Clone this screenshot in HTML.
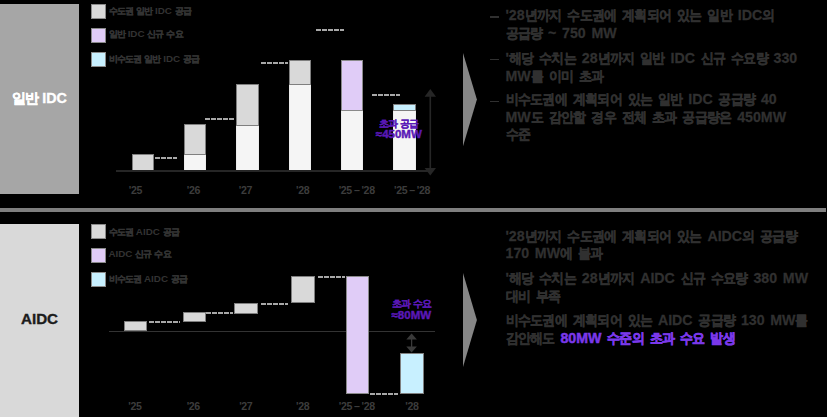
<!DOCTYPE html>
<html lang="ko">
<head>
<meta charset="utf-8">
<title>IDC / AIDC</title>
<style>
html,body{margin:0;padding:0;background:#000;}
body{width:827px;height:417px;position:relative;overflow:hidden;font-family:"Liberation Sans",sans-serif;color:#303030;}
.abs{position:absolute;}
.panel{position:absolute;left:0;width:79px;display:flex;align-items:center;justify-content:center;font-weight:700;font-size:14.3px;white-space:nowrap;-webkit-text-stroke:0.35px currentColor;}
.panel .k{font-size:13.6px;letter-spacing:-1.0px;-webkit-text-stroke:0.45px currentColor;}
.lg{position:absolute;left:91px;width:15px;height:15px;box-sizing:border-box;border:1px solid #8a8a8a;}
.lt{position:absolute;left:108.5px;font-size:9.8px;line-height:12px;white-space:nowrap;color:#333;font-weight:700;word-spacing:0px;}
.lt .k{font-size:9.4px;letter-spacing:-0.8px;-webkit-text-stroke:0.25px currentColor;}
.bar{position:absolute;box-sizing:border-box;}
.g{background:#d9d9d9;border:1px solid #7f7f7f;}
.w{background:#f5f5f5;border:1px solid #ebebeb;}
.p{background:#e0ccf7;border:1px solid #8a8a8a;}
.b{background:#c8f0ff;border:1px solid #7f7f7f;}
.dot{position:absolute;height:2px;background:repeating-linear-gradient(90deg,#a8a8a8 0,#a8a8a8 4.8px,transparent 4.8px,transparent 6px);}
.xl{position:absolute;font-size:10.6px;line-height:12px;color:#3c3c3c;white-space:nowrap;transform:translateX(-50%);font-weight:700;letter-spacing:-0.35px;word-spacing:-0.6px;}
.note{position:absolute;font-size:11.5px;line-height:11.5px;font-weight:700;color:#5a18b6;-webkit-text-stroke:0.45px #5a18b6;text-align:center;white-space:nowrap;transform:translateX(-50%);}
.note .k{font-size:9.6px;letter-spacing:-1.0px;-webkit-text-stroke:0.25px currentColor;}
.tx{position:absolute;left:505.5px;font-size:14.2px;line-height:17.5px;font-weight:700;color:#303030;white-space:nowrap;word-spacing:1.75px;-webkit-text-stroke:0.25px currentColor;}
.tx .k{font-size:13.0px;letter-spacing:-0.7px;-webkit-text-stroke:0.35px currentColor;}
.dash{position:absolute;left:490px;width:9px;height:1.6px;background:#303030;}
.pur{color:#7a38ea;-webkit-text-stroke:0.5px #7a38ea;}
.pur .k{-webkit-text-stroke:0.6px #7a38ea;}
.ln{display:block;height:17.5px;transform:scaleY(1.08);transform-origin:50% 70%;}
</style>
</head>
<body>

<!-- left panels -->
<div class="panel" style="top:4px;height:189.5px;background:#a6a6a6;color:#fff;"><span><span class="k">일반</span> IDC</span></div>
<div class="panel" style="top:224px;height:193px;background:#d9d9d9;color:#1c1c1c;font-size:15.2px;-webkit-text-stroke:0.35px #1c1c1c;padding-bottom:3.5px;box-sizing:border-box;">AIDC</div>

<!-- divider -->
<div class="abs" style="left:0;top:208px;width:826px;height:4px;background:#7f7f7f;"></div>

<!-- top legend -->
<div class="lg" style="top:4px;background:#d9d9d9;"></div>
<div class="lg" style="top:28px;background:#e0ccf7;"></div>
<div class="lg" style="top:52px;background:#c8f0ff;"></div>
<div class="lt" style="top:4.8px;"><span class="k">수도권</span> <span class="k">일반</span> IDC <span class="k">공급</span></div>
<div class="lt" style="top:28px;"><span class="k">일반</span> IDC <span class="k">신규</span> <span class="k">수요</span></div>
<div class="lt" style="top:52.5px;"><span class="k">비수도권</span> <span class="k">일반</span> IDC <span class="k">공급</span></div>

<!-- top chart -->
<div class="bar g" style="left:132px;top:154px;width:22px;height:17px;"></div>
<div class="dot" style="left:155px;top:157px;width:22px;"></div>
<div class="bar w" style="left:184px;top:154px;width:22px;height:17px;"></div>
<div class="bar g" style="left:184px;top:124px;width:22px;height:31px;"></div>
<div class="dot" style="left:205px;top:118px;width:28.5px;"></div>
<div class="bar w" style="left:236px;top:125px;width:23px;height:46px;"></div>
<div class="bar g" style="left:236px;top:84px;width:23px;height:42px;"></div>
<div class="dot" style="left:261px;top:62px;width:27px;"></div>
<div class="bar w" style="left:289px;top:84px;width:22px;height:87px;"></div>
<div class="bar g" style="left:289px;top:60px;width:22px;height:25px;"></div>
<div class="dot" style="left:316px;top:29px;width:27.5px;"></div>
<div class="bar w" style="left:341px;top:110px;width:22px;height:61px;"></div>
<div class="bar p" style="left:341px;top:60px;width:22px;height:51px;"></div>
<div class="dot" style="left:372px;top:94px;width:27.5px;"></div>
<div class="bar w" style="left:393px;top:110px;width:23px;height:61px;"></div>
<div class="bar b" style="left:393px;top:104px;width:23px;height:7px;"></div>
<div class="abs" style="left:116px;top:170px;width:315px;height:2px;background:#262626;"></div>

<div class="note" style="left:398.8px;top:117.5px;"><span class="k">초과</span> <span class="k">공급</span><br>≈450MW</div>

<svg class="abs" style="left:422px;top:86px;" width="18" height="94" viewBox="0 0 18 94">
  <line x1="8.3" y1="8" x2="8.3" y2="84" stroke="#262626" stroke-width="1.6"/>
  <path d="M8.3 3 L14 10.8 L2.6 10.8 Z" fill="#262626"/>
  <path d="M8.3 89.6 L14 82 L2.6 82 Z" fill="#262626"/>
</svg>

<div class="xl" style="left:135.5px;top:184px;">'25</div>
<div class="xl" style="left:193.5px;top:184px;">'26</div>
<div class="xl" style="left:245.5px;top:184px;">'27</div>
<div class="xl" style="left:302.7px;top:184px;">'28</div>
<div class="xl" style="left:356.7px;top:184px;">'25 – '28</div>
<div class="xl" style="left:412px;top:184px;">'25 – '28</div>

<svg class="abs" style="left:463px;top:52.8px;" width="15" height="94" viewBox="0 0 15 94"><path d="M0 0 L13.9 46.6 L0 93.2 Z" fill="#868686"/></svg>

<!-- top text -->
<div class="dash" style="top:16.2px;"></div>
<div class="tx" style="top:7.2px;"><span class="ln">'28<span class="k">년까지</span> <span class="k">수도권에</span> <span class="k">계획되어</span> <span class="k">있는</span> <span class="k">일반</span> IDC<span class="k">의</span></span><span class="ln"><span class="k">공급량</span> ~ 750 MW</span></div>
<div class="dash" style="top:58.8px;"></div>
<div class="tx" style="top:50px;"><span class="ln">'<span class="k">해당</span> <span class="k">수치는</span> 28<span class="k">년까지</span> <span class="k">일반</span> IDC <span class="k">신규</span> <span class="k">수요량</span> 330</span><span class="ln">MW<span class="k">를</span> <span class="k">이미</span> <span class="k">초과</span></span></div>
<div class="dash" style="top:100.8px;"></div>
<div class="tx" style="top:91.2px;"><span class="ln"><span class="k">비수도권에</span> <span class="k">계획되어</span> <span class="k">있는</span> <span class="k">일반</span> IDC <span class="k">공급량</span> 40</span><span class="ln">MW<span class="k">도</span> <span class="k">감안할</span> <span class="k">경우</span> <span class="k">전체</span> <span class="k">초과</span> <span class="k">공급량은</span> 450MW</span><span class="ln"><span class="k">수준</span></span></div>

<!-- bottom legend -->
<div class="lg" style="top:224.4px;background:#d9d9d9;"></div>
<div class="lg" style="top:248px;background:#e0ccf7;"></div>
<div class="lg" style="top:272px;background:#c8f0ff;"></div>
<div class="lt" style="top:225.5px;"><span class="k">수도권</span> AIDC <span class="k">공급</span></div>
<div class="lt" style="top:248px;">AIDC <span class="k">신규</span> <span class="k">수요</span></div>
<div class="lt" style="top:272.7px;"><span class="k">비수도권</span> AIDC <span class="k">공급</span></div>

<!-- bottom chart -->
<div class="abs" style="left:109.3px;top:330.6px;width:325.4px;height:1.2px;background:#333;"></div>
<div class="bar g" style="left:124.4px;top:321px;width:23px;height:10px;"></div>
<div class="dot" style="left:149px;top:321px;width:31px;"></div>
<div class="bar g" style="left:182.5px;top:312.2px;width:23px;height:10px;"></div>
<div class="dot" style="left:206px;top:312px;width:27px;"></div>
<div class="bar g" style="left:234px;top:302.8px;width:24px;height:11px;"></div>
<div class="dot" style="left:260.5px;top:303px;width:27px;"></div>
<div class="bar g" style="left:291.3px;top:276.3px;width:24px;height:27.2px;"></div>
<div class="dot" style="left:317.5px;top:276px;width:27px;"></div>
<div class="bar p" style="left:345.5px;top:276.3px;width:23.2px;height:118px;"></div>
<div class="dot" style="left:370px;top:393px;width:27.5px;"></div>
<div class="bar b" style="left:400px;top:353px;width:24px;height:41px;"></div>

<div class="note" style="left:411.3px;top:298px;"><span class="k">초과</span> <span class="k">수요</span><br>≈80MW</div>

<svg class="abs" style="left:403px;top:332px;" width="18" height="22" viewBox="0 0 18 22">
  <line x1="8.6" y1="5" x2="8.6" y2="17" stroke="#3a3a3a" stroke-width="1.3"/>
  <path d="M8.6 1.4 L13.9 7.6 L3.3 7.6 Z" fill="#3a3a3a"/>
  <path d="M8.6 20.6 L13.9 14.4 L3.3 14.4 Z" fill="#3a3a3a"/>
</svg>

<div class="xl" style="left:135px;top:400px;">'25</div>
<div class="xl" style="left:193.3px;top:400px;">'26</div>
<div class="xl" style="left:245.8px;top:400px;">'27</div>
<div class="xl" style="left:302.7px;top:400px;">'28</div>
<div class="xl" style="left:356.8px;top:400px;">'25 – '28</div>
<div class="xl" style="left:412px;top:400px;">'28</div>

<svg class="abs" style="left:463px;top:272.6px;" width="15" height="95" viewBox="0 0 15 95"><path d="M0 0 L13.9 47 L0 94 Z" fill="#868686"/></svg>

<!-- bottom text -->
<div class="tx" style="top:227.9px;"><span class="ln">'28<span class="k">년까지</span> <span class="k">수도권에</span> <span class="k">계획되어</span> <span class="k">있는</span> AIDC<span class="k">의</span> <span class="k">공급량</span></span><span class="ln">170 MW<span class="k">에</span> <span class="k">불과</span></span></div>
<div class="tx" style="top:270.2px;"><span class="ln">'<span class="k">해당</span> <span class="k">수치는</span> 28<span class="k">년까지</span> AIDC <span class="k">신규</span> <span class="k">수요량</span> 380 MW</span><span class="ln"><span class="k">대비</span> <span class="k">부족</span></span></div>
<div class="tx" style="top:312.4px;"><span class="ln"><span class="k">비수도권에</span> <span class="k">계획되어</span> <span class="k">있는</span> AIDC <span class="k">공급량</span> 130 MW<span class="k">를</span></span><span class="ln"><span class="k">감안해도</span> <span class="pur">80MW <span class="k">수준의</span> <span class="k">초과</span> <span class="k">수요</span> <span class="k">발생</span></span></span></div>

</body>
</html>
